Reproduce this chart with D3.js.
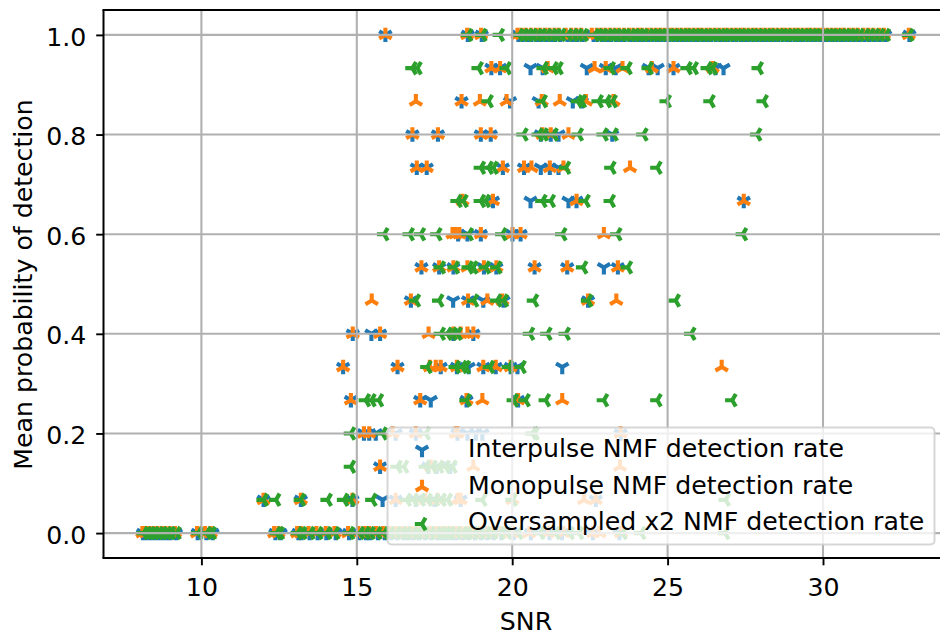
<!DOCTYPE html>
<html>
<head>
<meta charset="utf-8">
<script src="https://cdn.jsdelivr.net/npm/d3@7/dist/d3.min.js"></script>
<style>
html,body{margin:0;padding:0;background:#fff;overflow:hidden}
svg{display:block}
text{font-family:"DejaVu Sans",sans-serif;fill:#000}
</style>
</head>
<body>
<svg id="chart" width="940" height="634"></svg>
<script>
const probabilityLevels = [0, 0.0667, 0.1333, 0.2, 0.2667, 0.3333, 0.4, 0.4667, 0.5333, 0.6, 0.6667, 0.7333, 0.8, 0.8667, 0.9333, 1];
const xTicks = [10, 15, 20, 25, 30];
const yTicks = [0, 0.2, 0.4, 0.6, 0.8, 1];
const seriesNames = ["Interpulse NMF detection rate", "Monopulse NMF detection rate", "Oversampled x2 NMF detection rate"];
const seriesColors = ["#1f77b4", "#ff7f0e", "#2ca02c"];

// SNR readings for each probability level, in the order of probabilityLevels
const interpulseSnr = [
 [8.12,8.24,8.36,8.49,8.62,8.75,8.88,9.0,9.18,9.88,10.16,10.36,12.38,12.55,13.12,13.22,13.48,13.74,14.02,14.32,14.75,15.08,15.3,15.42,15.68,15.9,16.1,16.3,16.5,16.65,16.8,17.0,17.2,17.4,17.6,17.75,17.9,18.05,18.2,18.4,18.6,18.8,19.0,19.2,19.4,19.65,20.05,20.6,21.2,21.6,22.6,23.45],
 [12.0,13.2,14.86,15.83,16.25,16.9,17.5,18.34,22.69],
 [15.75,17.3,17.57,18.0],
 [15.23,15.4,15.61,16.25,16.9,18.24,18.56,18.83,19.04,23.49],
 [14.81,17.04,17.38,18.53,20.19],
 [14.56,16.31,17.7,18.22,18.6,19.07,19.47,19.95,20.17,21.61],
 [14.87,15.47,15.75,18.11,18.75],
 [16.74,18.1,18.58,19.07,19.72,22.44],
 [17.08,17.65,18.11,19.09,19.49,20.72,21.77,22.95,23.4],
 [18.26,18.56,18.99,20.01,20.27],
 [19.38,20.59,21.81,22.07,27.45],
 [16.93,17.25,19.7,20.38,20.92,21.21,21.49],
 [16.79,17.61,18.99,19.31,20.92,21.24,21.49,23.22],
 [18.37,19.93,20.85,21.95,22.24],
 [19.33,19.61,20.59,20.98,22.4,23.01,23.33,24.39,24.68,25.19,26.54,26.8],
 [15.92,18.57,19.02,20.2,20.34,20.5,20.62,20.8,20.94,21.1,21.25,21.38,21.55,21.78,21.95,22.1,22.27,22.62,22.74,22.9,23.05,23.18,23.34,23.5,23.62,23.8,23.94,24.08,24.22,24.37,24.52,24.66,24.8,24.94,25.06,25.2,25.33,25.47,25.6,25.74,25.88,26.0,26.14,26.28,26.4,26.55,26.7,26.82,26.95,27.1,27.22,27.36,27.5,27.62,27.76,27.9,28.04,28.17,28.3,28.44,28.56,28.7,28.84,28.96,29.1,29.24,29.36,29.5,29.64,29.76,29.9,30.04,30.17,30.3,30.44,30.58,30.72,30.86,31.0,31.16,31.34,31.5,31.66,31.82,32.0,32.78]
];
const monopulseSnr = [
 [8.1,8.22,8.33,8.46,8.58,8.72,8.84,8.98,9.15,9.86,10.12,10.3,12.34,12.48,13.08,13.2,13.45,13.7,14.0,14.28,14.72,15.05,15.26,15.4,15.62,15.85,16.05,16.25,16.44,16.6,16.78,16.96,17.15,17.35,17.55,17.72,17.86,18.0,18.18,18.36,18.55,18.76,18.95,19.15,19.35,19.6,20.0,20.55,21.15,21.65,22.6,22.8,23.5],
 [12.0,13.2,14.86,16.25,17.2,17.6,18.24,18.34,20.01,22.31,22.69],
 [15.75,17.38,18.75,23.47],
 [15.23,15.4,16.15,16.9,18.18,18.24,23.49],
 [14.81,17.04,18.53,19.04,20.19,21.61],
 [14.56,16.31,17.35,17.54,17.7,18.22,19.07,19.47,19.95,26.74],
 [14.87,15.75,17.31,18.11,18.34,18.56,18.75],
 [15.48,16.74,18.58,19.2,19.68,22.44,23.35],
 [17.08,17.65,18.11,18.56,19.09,19.49,20.72,21.77,23.4],
 [18.08,18.18,18.3,18.99,20.01,20.27,22.95],
 [18.4,19.38,22.07,27.45],
 [16.93,17.25,19.7,20.38,20.62,21.21,21.65,23.79],
 [16.79,17.61,18.99,19.31,20.97,21.24,21.81],
 [16.9,18.37,18.96,19.82,20.95,21.53,22.37,23.26],
 [19.33,19.61,21.14,22.65,23.01,23.55,24.49,25.19,26.45],
 [15.92,18.55,19.0,20.17,20.3,20.44,20.6,20.76,20.9,21.06,21.2,21.36,21.5,21.72,21.9,22.06,22.22,22.56,22.72,22.85,23.0,23.15,23.3,23.44,23.6,23.76,23.9,24.05,24.18,24.34,24.48,24.62,24.76,24.9,25.04,25.16,25.3,25.44,25.58,25.7,25.84,25.98,26.1,26.25,26.38,26.52,26.66,26.8,26.92,27.06,27.2,27.34,27.46,27.6,27.74,27.86,28.0,28.14,28.28,28.4,28.54,28.68,28.8,28.94,29.08,29.2,29.34,29.48,29.6,29.74,29.88,30.0,30.14,30.28,30.42,30.56,30.68,30.84,30.98,31.12,31.3,31.46,31.62,31.8,31.96,32.76]
];
const oversampledSnr = [
 [8.14,8.26,8.38,8.5,8.64,8.76,8.9,9.02,9.2,9.9,10.18,10.33,12.42,12.52,13.1,13.24,13.5,13.76,14.04,14.3,14.78,15.1,15.28,15.44,15.66,15.88,16.08,16.28,16.46,16.62,16.82,16.98,17.18,17.38,17.58,17.74,17.88,18.02,18.22,18.42,18.58,18.78,18.98,19.18,19.38,19.62,19.85,20.2,20.9,21.4,21.85,22.15,23.55,24.15,26.85],
 [12.0,12.4,13.2,14.06,14.59,14.8,15.5,16.61,16.83,17.06,17.28,17.51,17.73,17.93,19.04,20.01,26.87],
 [14.81,16.31,16.52,17.22,17.44,17.65,17.86,18.08],
 [14.81,15.83,17.22,20.65,20.72],
 [15.29,15.47,15.71,18.53,20.05,20.43,21.08,22.95,24.67,27.08],
 [17.27,18.18,18.4,18.51,19.28,19.89,20.3],
 [17.7,17.92,18.08,18.24,20.57,21.13,21.72,25.76],
 [16.9,17.65,18.77,19.52,19.73,20.7,22.44,25.26],
 [17.7,18.15,18.6,18.75,19.15,19.52,22.28,23.72],
 [15.88,16.7,17.06,17.59,18.6,19.68,21.61,23.38,27.42],
 [18.24,18.43,18.99,19.15,20.97,21.24,22.36,23.17],
 [18.99,19.24,19.4,21.73,23.19,24.67],
 [20.36,20.85,21.01,21.33,22.14,22.94,23.26,24.22,27.88],
 [19.24,20.98,22.11,22.24,22.78,23.04,23.23,24.97,26.38,28.09],
 [16.79,16.95,18.92,19.82,21.01,21.33,21.49,23.17,23.71,24.39,25.64,25.84,26.29,26.45,27.93],
 [18.58,19.04,19.6,20.22,20.37,20.52,20.66,20.82,20.96,21.12,21.28,21.42,21.58,21.8,21.97,22.13,22.3,22.66,22.78,22.92,23.08,23.22,23.36,23.52,23.66,23.82,23.96,24.1,24.24,24.4,24.54,24.68,24.82,24.96,25.08,25.22,25.36,25.5,25.62,25.76,25.9,26.02,26.16,26.3,26.44,26.58,26.72,26.84,26.98,27.12,27.25,27.38,27.52,27.66,27.78,27.92,28.06,28.2,28.32,28.46,28.6,28.72,28.86,29.0,29.12,29.26,29.4,29.52,29.66,29.78,29.92,30.06,30.2,30.32,30.46,30.6,30.74,30.88,31.02,31.18,31.36,31.52,31.68,31.84,32.02,32.77]
];

const seriesSnr = [interpulseSnr, monopulseSnr, oversampledSnr];
const seriesAngles = [[180, 60, 300], [0, 120, 240], [270, 30, 150]];

const svg = d3.select("#chart");
const plot = { left: 103.5, right: 947, top: 10, bottom: 558 };
const x = d3.scaleLinear().domain([6.85, 34.0]).range([plot.left, plot.left + 27.15 * 31.08]);
const y = d3.scaleLinear().domain([-0.05, 1.05]).range([plot.bottom, plot.top]);

svg.append("defs").append("clipPath").attr("id", "plotClip")
  .append("rect").attr("x", plot.left).attr("y", plot.top)
  .attr("width", plot.right - plot.left).attr("height", plot.bottom - plot.top);

const radius = 7.2;
const markerWidth = 4.1;
function triPath(angles) {
  return angles.map(a => {
    const t = a * Math.PI / 180;
    return `M0,0L${radius * Math.sin(t)},${-radius * Math.cos(t)}`;
  }).join("");
}

const marks = svg.append("g").attr("clip-path", "url(#plotClip)");
seriesSnr.forEach((rows, s) => {
  const pts = rows.flatMap((row, i) => row.map(v => [v, probabilityLevels[i]]));
  marks.append("g").selectAll("path").data(pts).join("path")
    .attr("d", triPath(seriesAngles[s]))
    .attr("transform", d => `translate(${x(d[0])},${y(d[1])})`)
    .attr("fill", "none").attr("stroke", seriesColors[s]).attr("stroke-width", markerWidth);
});

const grid = svg.append("g").attr("clip-path", "url(#plotClip)")
  .attr("stroke", "#b0b0b0").attr("stroke-width", 2.08);
grid.selectAll(".gx").data(xTicks).join("line").attr("class", "gx")
  .attr("x1", d => x(d)).attr("x2", d => x(d)).attr("y1", plot.top).attr("y2", plot.bottom);
grid.selectAll(".gy").data(yTicks).join("line").attr("class", "gy")
  .attr("x1", plot.left).attr("x2", plot.right).attr("y1", d => y(d)).attr("y2", d => y(d));

const xAxis = svg.append("g").attr("transform", `translate(0,${plot.bottom})`)
  .call(d3.axisBottom(x).tickValues(xTicks).tickFormat(d3.format("d")).tickSize(7.3).tickPadding(12.5));
const yAxis = svg.append("g").attr("transform", `translate(${plot.left},0)`)
  .call(d3.axisLeft(y).tickValues(yTicks).tickFormat(d3.format(".1f")).tickSize(7.3).tickPadding(10));
[xAxis, yAxis].forEach(a => {
  a.select(".domain").remove();
  a.selectAll("line").attr("stroke", "#000").attr("stroke-width", 1.9);
  a.selectAll("text").attr("font-family", '"DejaVu Sans"').attr("font-size", 25.2).attr("fill", "#000");
});
yAxis.selectAll("text").attr("dy", "0.4em");

const spines = svg.append("g").attr("stroke", "#000").attr("stroke-width", 2).attr("fill", "none");
spines.append("path").attr("d", `M${plot.left},${plot.top}V${plot.bottom}`);
spines.append("path").attr("d", `M${plot.left - 1},${plot.top}H${plot.right}`);
spines.append("path").attr("d", `M${plot.left - 1},${plot.bottom}H${plot.right}`);

svg.append("text").attr("x", 526).attr("y", 629.5).attr("text-anchor", "middle")
  .attr("font-size", 25.2).text("SNR");
svg.append("text").attr("transform", "translate(31.5,284.5) rotate(-90)").attr("text-anchor", "middle")
  .attr("font-size", 25.2).text("Mean probability of detection");

const legend = svg.append("g");
legend.append("rect").attr("x", 387.5).attr("y", 427.5).attr("width", 547).attr("height", 117).attr("rx", 4)
  .attr("fill", "#fff").attr("fill-opacity", 0.8).attr("stroke", "#ccc").attr("stroke-opacity", 0.8).attr("stroke-width", 2);
const legendMarkerY = [450, 487, 524];
const legendTextY = [456.5, 493.5, 529.5];
seriesNames.forEach((name, s) => {
  legend.append("path").attr("d", triPath(seriesAngles[s]))
    .attr("transform", `translate(422,${legendMarkerY[s]})`)
    .attr("fill", "none").attr("stroke", seriesColors[s]).attr("stroke-width", markerWidth);
  legend.append("text").attr("x", 468).attr("y", legendTextY[s]).attr("font-size", 25.2).text(name);
});
</script>
</body>
</html>
